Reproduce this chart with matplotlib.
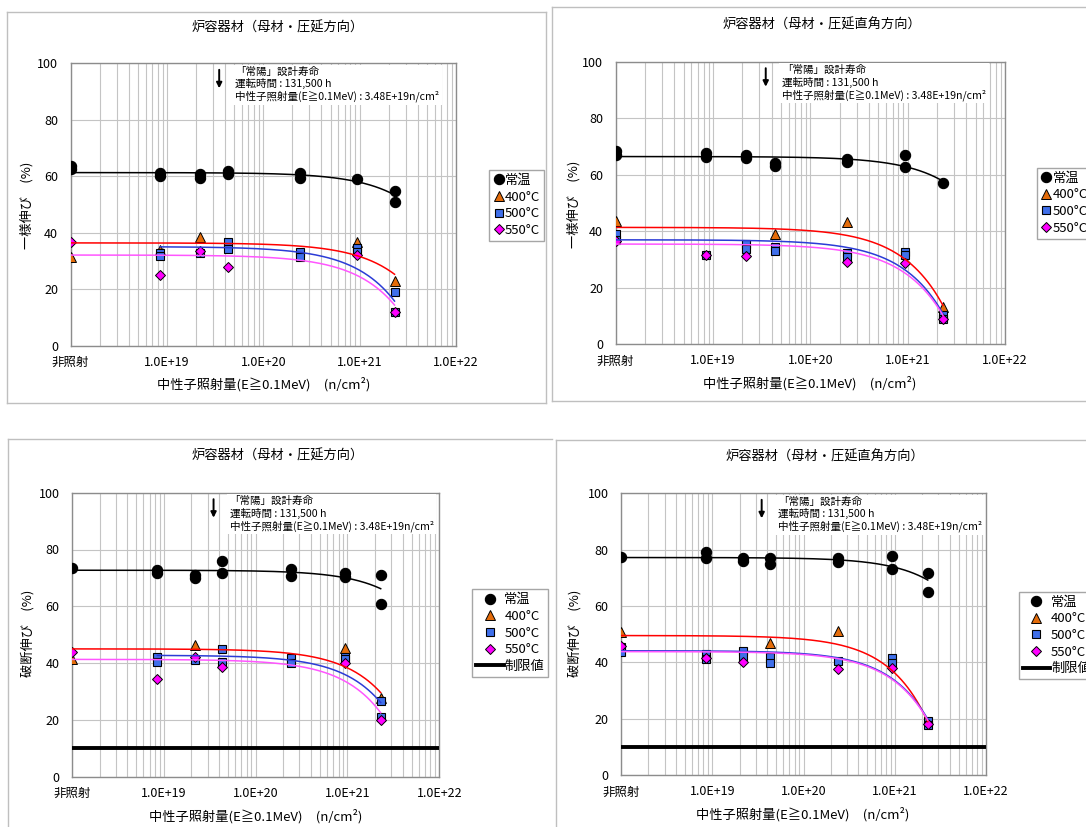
import numpy as np
import matplotlib
matplotlib.use("Agg")
import matplotlib.pyplot as plt
from matplotlib.lines import Line2D
from matplotlib.ticker import FixedLocator, LogLocator, NullFormatter

plt.rcParams['font.family'] = ['Noto Sans CJK JP', 'DejaVu Sans']

W, H = 1086, 827

# ---------------------------------------------------------------- data
# fluence of each specimen group (n/cm2); unirradiated specimens sit on the left edge
UNIRR_POS = 1e18
FLUENCE = [UNIRR_POS, 8.5e18, 2.2e19, 4.3e19, 2.4e20, 9.3e20, 2.3e21]
DESIGN_FLUENCE = 3.48e19
XTICKS = [1e18, 1e19, 1e20, 1e21, 1e22]
XTICK_LABELS = ['非照射', '1.0E+19', '1.0E+20', '1.0E+21', '1.0E+22']
YTICKS = [0, 20, 40, 60, 80, 100]
SERIES = ['常温', '400°C', '500°C', '550°C']
LIMIT_LABEL = '制限値'
LIMIT_VALUE = 10

TITLE_L = '炉容器材（母材・圧延方向）'
TITLE_T = '炉容器材（母材・圧延直角方向）'
YLABEL_UE = '一様伸び　(%)'
YLABEL_TE = '破断伸び　(%)'
XLABEL = '中性子照射量(E≧0.1MeV)　(n/cm²)'
NOTE = ('「常陽」設計寿命\n運転時間 : 131,500 h\n'
        '中性子照射量(E≧0.1MeV) : 3.48E+19n/cm²')

# uniform elongation (%), rolling direction: values per fluence group
ue_l_rt = [[63.5, 62.5], [61.0, 60.2], [60.7, 59.5], [61.9, 60.9], [61.3, 59.3], [59.0], [54.8, 50.9]]
ue_l_400 = [[31.5], [33.8], [38.6], [], [], [36.8], [22.9]]
ue_l_500 = [[], [33.0, 31.8], [32.7], [36.8, 34.1], [33.1, 31.4], [34.5, 33.3], [19.0, 11.9]]
ue_l_550 = [[36.8], [24.9], [33.6], [28.0], [], [32.0], [11.9]]
ue_l_trend = [(61.3, 53.4), (36.4, 25.3), (35.0, 15.8), (32.1, 14.4)]

# uniform elongation (%), transverse direction
ue_t_rt = [[68.3, 66.9], [67.5, 66.4], [66.9, 66.0], [64.0, 63.0], [65.7, 64.6], [66.8, 62.7], [57.0]]
ue_t_400 = [[43.4], [], [], [39.0], [43.1], [], [13.1]]
ue_t_500 = [[39.0, 36.9], [31.7], [35.4, 33.7], [34.3, 32.9], [32.2, 30.8], [32.5, 31.7], [10.2, 8.7]]
ue_t_550 = [[36.6], [31.7], [31.3], [], [29.0], [28.6], [8.8]]
ue_t_trend = [(66.4, 57.7), (41.3, 13.7), (36.9, 10.8), (35.4, 10.2)]

# total elongation (%), rolling direction
te_l_rt = [[73.4], [72.8, 71.8], [71.0, 70.1], [76.1, 71.8], [73.0, 70.7], [71.8, 70.4], [70.9, 60.8]]
te_l_400 = [[41.3], [], [46.4], [], [], [45.2], [27.8]]
te_l_500 = [[], [42.3, 40.5], [41.1], [45.0, 40.3], [41.7, 39.9], [42.3, 41.3], [26.8, 21.1]]
te_l_550 = [[43.9], [34.5], [42.3], [38.7], [], [39.9], [20.0]]
te_l_trend = [(72.7, 66.2), (45.0, 29.6), (42.7, 26.1), (41.3, 22.5)]

# total elongation (%), transverse direction
te_t_rt = [[77.3], [79.3, 76.9], [77.2, 76.0], [77.2, 74.8], [76.9, 75.7], [77.8, 73.1], [71.8, 65.0]]
te_t_400 = [[50.9], [], [], [47.0], [51.2], [], []]
te_t_500 = [[45.6, 43.8], [43.0, 41.1], [44.1, 42.2], [42.0, 39.9], [40.6], [41.4, 39.9], [19.2, 17.8]]
te_t_550 = [[45.8], [41.4], [40.2], [], [37.6], [38.1], [18.1]]
te_t_trend = [(77.2, 69.2), (49.5, 18.9), (44.1, 19.8), (43.8, 19.5)]

# ---------------------------------------------------------------- styles
MARKERS = [
    dict(marker='o', ms=7.4, mfc='black', mec='black', mew=0.8),
    dict(marker='^', ms=7.0, mfc='#E46C0A', mec='black', mew=0.7),
    dict(marker='s', ms=6.4, mfc='#3F6FEA', mec='black', mew=0.8),
    dict(marker='D', ms=4.8, mfc='#FF00FF', mec='black', mew=0.7),
]
TREND_COLORS = ['#000000', '#FF0000', '#2B3BD6', '#FF55FF']
GRID = '#C4C4C4'
SPINE = '#8C8C8C'
FRAME = '#BFBFBF'

PANELS = [
    dict(series=[ue_l_rt, ue_l_400, ue_l_500, ue_l_550], trend=ue_l_trend,
         title=TITLE_L, ylabel=YLABEL_UE, limit=False,
         box=(70.7, 63.3, 456.0, 345.7), title_xy=(0.5365, 1.125),
         xlab_xy=(0.500, -0.137), ylab_xy=(-0.114, 0.498), leg=(489.3, 170.0)),
    dict(series=[ue_t_rt, ue_t_400, ue_t_500, ue_t_550], trend=ue_t_trend,
         title=TITLE_T, ylabel=YLABEL_UE, limit=False,
         box=(615.7, 61.7, 1005.0, 344.0), title_xy=(0.530, 1.130),
         xlab_xy=(0.499, -0.138), ylab_xy=(-0.108, 0.496), leg=(1037.0, 167.7)),
    dict(series=[te_l_rt, te_l_400, te_l_500, te_l_550], trend=te_l_trend,
         title=TITLE_L, ylabel=YLABEL_TE, limit=True,
         box=(72.0, 492.7, 439.3, 776.7), title_xy=(0.560, 1.129),
         xlab_xy=(0.501, -0.141), ylab_xy=(-0.120, 0.506), leg=(472.0, 589.3)),
    dict(series=[te_t_rt, te_t_400, te_t_500, te_t_550], trend=te_t_trend,
         title=TITLE_T, ylabel=YLABEL_TE, limit=True,
         box=(621.0, 493.3, 986.0, 775.0), title_xy=(0.559, 1.130),
         xlab_xy=(0.4975, -0.138), ylab_xy=(-0.127, 0.504), leg=(1018.6, 591.7)),
]

# chart-area borders (pixel segments)
FRAME_SEGMENTS = [
    [(7, 12), (546, 12)], [(546, 12), (546, 403)], [(546, 403), (7, 403)], [(7, 403), (7, 12)],
    [(552, 7), (1086, 7)], [(552, 7), (552, 401)], [(552, 401), (1086, 401)],
    [(7.7, 439.3), (552, 439.3)], [(7.7, 439.3), (7.7, 827)],
    [(555.6, 440), (1086, 440)], [(555.6, 440), (555.6, 827)],
]

fig = plt.figure(figsize=(W / 100, H / 100), dpi=100)
fig.patch.set_facecolor('white')

for seg in FRAME_SEGMENTS:
    (x0, y0), (x1, y1) = seg
    fig.add_artist(Line2D([x0 / W, x1 / W], [1 - y0 / H, 1 - y1 / H],
                          transform=fig.transFigure, color=FRAME, lw=1.0))


def expand(groups):
    xs, ys = [], []
    for f, vals in zip(FLUENCE, groups):
        for v in vals:
            xs.append(f)
            ys.append(v)
    return np.array(xs), np.array(ys)


for p in PANELS:
    l, t, r, b = p['box']
    ax = fig.add_axes([l / W, 1 - b / H, (r - l) / W, (b - t) / H])
    ah = b - t

    ax.set_xscale('log')
    ax.set_xlim(1e18, 1e22)
    ax.set_ylim(0, 100)
    ax.xaxis.set_major_locator(FixedLocator(XTICKS))
    ax.set_xticklabels(XTICK_LABELS)
    ax.xaxis.set_minor_locator(LogLocator(base=10, subs=np.arange(2, 10)))
    ax.xaxis.set_minor_formatter(NullFormatter())
    ax.set_yticks(YTICKS)
    ax.tick_params(axis='both', which='both', length=0, labelsize=9, colors='black')
    ax.tick_params(axis='x', pad=7.5)
    ax.tick_params(axis='y', pad=9)
    ax.grid(True, which='both', axis='x', color=GRID, lw=0.8)
    ax.grid(True, which='major', axis='y', color=GRID, lw=0.8)
    ax.set_axisbelow(True)
    for s in ax.spines.values():
        s.set_color(SPINE)
        s.set_linewidth(1.0)

    handles = []
    for groups, style, name in zip(p['series'], MARKERS, SERIES):
        xs, ys = expand(groups)
        h, = ax.plot(xs, ys, ls='none', label=name, zorder=3, **style)
        handles.append(h)

    # linear-in-fluence trend lines from the first tested fluence to the highest one
    for groups, (y0, y1), color in zip(p['series'], p['trend'], TREND_COLORS):
        first = next(i for i, g in enumerate(groups) if len(g) > 0)
        x0, x1 = FLUENCE[first], FLUENCE[-1]
        xx = np.logspace(np.log10(x0), np.log10(x1), 200)
        yy = y0 + (y1 - y0) * (xx - x0) / (x1 - x0)
        ax.plot(xx, yy, color=color, lw=1.1, zorder=4)

    if p['limit']:
        lh = ax.axhline(LIMIT_VALUE, color='black', lw=2.8, zorder=4, label=LIMIT_LABEL)
        handles.append(lh)

    ax.set_title(p['title'], fontsize=9.5, x=p['title_xy'][0], y=p['title_xy'][1],
                 pad=0, va='center')
    ax.set_xlabel(XLABEL, fontsize=9.5, va='center')
    ax.xaxis.set_label_coords(*p['xlab_xy'])
    ax.set_ylabel(p['ylabel'], fontsize=9.5, va='center')
    ax.yaxis.set_label_coords(*p['ylab_xy'])

    # design-life marker
    ax.annotate('', xy=(DESIGN_FLUENCE, 1 - 25 / ah), xytext=(DESIGN_FLUENCE, 1 - 6.5 / ah),
                xycoords=('data', 'axes fraction'), textcoords=('data', 'axes fraction'),
                arrowprops=dict(arrowstyle='-|>', color='black', lw=1.4,
                                mutation_scale=8, shrinkA=0, shrinkB=0),
                zorder=7)
    ax.annotate(NOTE, xy=(DESIGN_FLUENCE, 1.0), xycoords=('data', 'axes fraction'),
                xytext=(16, -3.5), textcoords='offset pixels', ha='left', va='top',
                fontsize=7.6, linespacing=1.15,
                bbox=dict(fc='white', ec='none', pad=2), zorder=6)

    lx, ly = p['leg']
    if p['limit']:
        kw = dict(handlelength=2.1, handletextpad=0.05)
    else:
        kw = dict(handlelength=0.8, handletextpad=0.1)
    leg = ax.legend(handles=handles, loc='upper left',
                    bbox_to_anchor=(lx / W, 1 - ly / H), bbox_transform=fig.transFigure,
                    fontsize=9.5, numpoints=1, frameon=True, fancybox=False,
                    edgecolor='#A6A6A6', framealpha=1, borderaxespad=0,
                    borderpad=0.3, labelspacing=0.28, **kw)
    leg.get_frame().set_linewidth(1.0)

fig.savefig('out.png', dpi=100)
